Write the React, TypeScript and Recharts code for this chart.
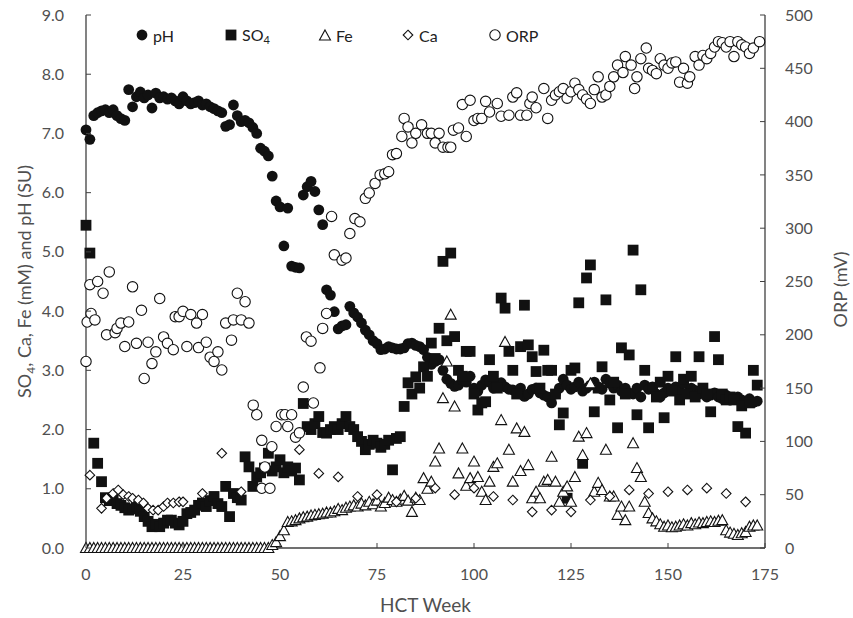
import React from "react";
import { ScatterChart, Scatter, XAxis, YAxis, Legend } from "recharts";

// weekly sampling, HCT weeks 0..173
const weeks = [
  0, 1, 2, 3, 4, 5, 6, 7, 8, 9, 10, 11, 12, 13, 14, 15, 16, 17, 18, 19, 20, 21, 22, 23, 24,
  25, 26, 27, 28, 29, 30, 31, 32, 33, 34, 35, 36, 37, 38, 39, 40, 41, 42, 43, 44, 45, 46, 47, 48, 49,
  50, 51, 52, 53, 54, 55, 56, 57, 58, 59, 60, 61, 62, 63, 64, 65, 66, 67, 68, 69, 70, 71, 72, 73, 74,
  75, 76, 77, 78, 79, 80, 81, 82, 83, 84, 85, 86, 87, 88, 89, 90, 91, 92, 93, 94, 95, 96, 97, 98, 99,
  100, 101, 102, 103, 104, 105, 106, 107, 108, 109, 110, 111, 112, 113, 114, 115, 116, 117, 118, 119,
  120, 121, 122, 123, 124, 125, 126, 127, 128, 129, 130, 131, 132, 133, 134, 135, 136, 137, 138, 139,
  140, 141, 142, 143, 144, 145, 146, 147, 148, 149, 150, 151, 152, 153, 154, 155, 156, 157, 158, 159,
  160, 161, 162, 163, 164, 165, 166, 167, 168, 169, 170, 171, 172, 173,
];

const phValues = [
  7.06, 6.9, 7.3, 7.35, 7.38, 7.4, 7.35, 7.4, 7.3, 7.25, 7.22, 7.74, 7.45, 7.62, 7.7, 7.6, 7.65, 7.43, 7.68, 7.6,
  7.62, 7.58, 7.6, 7.55, 7.5, 7.62, 7.55, 7.5, 7.52, 7.55, 7.48, 7.5, 7.45, 7.42, 7.38, 7.35, 7.12, 7.15, 7.48, 7.3,
  7.2, 7.22, 7.18, 7.1, 7.0, 6.75, 6.7, 6.62, 6.28, 5.86, 5.76, 5.1, 5.74, 4.76, 4.74, 4.73, 5.96, 6.1, 6.19, 6.02,
  5.71, 5.46, 4.36, 4.27, 3.99, 3.7, 3.75, 3.77, 4.08, 3.97, 3.9, 3.8, 3.68, 3.6, 3.5, 3.45, 3.35, 3.36, 3.4, 3.38,
  3.36, 3.36, 3.38, 3.45, 3.46, 3.42, 3.4, 3.35, 3.22, 3.1, 3.15, 3.18, 3.0, 2.85, 2.78, 2.73, 2.75, 2.84, 2.8, 2.9,
  2.7, 2.65, 2.75, 2.84, 2.8, 2.7, 2.78, 2.79, 2.72, 2.68, 2.67, 2.62, 2.7, 2.56, 2.6, 2.68, 2.7, 2.62, 2.58, 2.55,
  2.45, 2.6, 2.7, 2.85, 2.75, 2.68, 2.72, 2.8, 2.65, 2.7, 2.75, 2.8, 2.72, 2.68, 2.85, 2.78, 2.7, 2.75, 2.65, 2.7,
  2.62, 2.6, 2.7, 2.55, 2.75, 2.68, 2.72, 2.6, 2.55, 2.62, 2.7, 2.68, 2.72, 2.65, 2.78, 2.62, 2.7, 2.66, 2.6, 2.64,
  2.55, 2.58, 2.62, 2.55, 2.52, 2.58, 2.5, 2.52, 2.55, 2.5, 2.48, 2.52, 2.46, 2.48,
];

const so4Values = [
  5.45, 4.98, 1.77, 1.43, 1.12, 0.85, 0.8, 0.82, 0.75, 0.72, 0.68, 0.64, 0.66, 0.7, 0.62, 0.53, 0.45, 0.36, 0.4, 0.36,
  0.42, 0.47, 0.47, 0.42, 0.39, 0.45, 0.58, 0.6, 0.64, 0.72, 0.76, 0.7, 0.8, 0.87, 0.75, 0.7, 1.04, 0.53, 0.92, 0.85,
  0.81, 1.54, 1.37, 1.04, 1.2, 1.27, 1.35, 1.6, 1.3, 1.37, 1.49, 1.27, 1.37, 1.3, 1.35, 1.15, 2.44, 2.05, 2.0, 2.1,
  2.22, 1.95, 1.94, 2.0, 2.05, 2.0, 2.1, 2.22, 2.05, 2.0, 1.88, 1.8, 1.66, 1.75, 1.82, 1.77, 1.7, 1.75, 1.82, 1.32,
  1.85, 1.88, 2.39, 2.79, 2.6, 2.89, 2.7, 3.06, 2.9, 3.46, 3.2, 3.71, 4.84, 3.5, 4.98, 3.57, 3.0, 2.9, 3.32, 3.32,
  2.6, 2.33, 2.45, 2.47, 3.18, 2.9, 2.7, 4.22, 4.05, 3.32, 3.0, 2.6, 3.4, 4.1, 3.43, 3.23, 2.98, 2.7, 3.34, 3.0,
  3.0, 2.6, 2.08, 2.28, 0.84, 3.0, 3.04, 4.14, 1.43, 4.56, 4.78, 2.3, 2.7, 3.06, 4.19, 2.5, 2.8, 2.03, 3.38, 2.6,
  3.26, 5.03, 2.25, 4.36, 3.0, 2.03, 2.7, 2.55, 2.8, 2.2, 2.9, 2.65, 3.23, 2.5, 2.85, 2.6, 2.9, 2.55, 3.23, 2.7,
  2.6, 2.3, 3.57, 3.18, 2.6, 2.5, 2.55, 2.5, 2.05, 2.4, 1.94, 2.45, 3.0, 2.75,
];

const feValues = [
  0, 0, 0, 0, 0, 0, 0, 0, 0, 0, 0, 0, 0, 0, 0, 0, 0, 0, 0, 0, 0, 0, 0, 0, 0,
  0, 0, 0, 0, 0, 0, 0, 0, 0, 0, 0, 0, 0, 0, 0, 0, 0, 0, 0, 0, 0, 0, 0, 0.05, 0.1,
  0.2, 0.3, 0.44, 0.45, 0.47, 0.5, 0.52, 0.53, 0.55, 0.56, 0.57, 0.58, 0.6, 0.6, 0.62, 0.66, 0.64, 0.68, 0.7, 0.72,
  0.7, 0.75, 0.72, 0.78, 0.74, 0.8, 0.7, 0.76, 0.85, 0.81, 0.78, 0.82, 0.88, 0.8, 0.61, 0.85, 0.81, 1.18, 1.0, 1.12,
  1.46, 1.68, 2.53, 3.15, 3.94, 2.39, 1.26, 1.68, 1.05, 1.18, 1.46, 1.2, 0.95, 0.81, 1.12, 1.37, 1.43, 2.16, 3.48, 1.66,
  1.12, 2.02, 1.3, 1.96, 1.4, 0.84, 0.95, 0.84, 1.12, 1.15, 1.54, 1.12, 0.78, 0.95, 1.04, 0.78, 1.2, 1.88, 1.57, 1.94,
  2.78, 0.95, 1.1, 0.98, 1.66, 0.87, 0.87, 0.56, 0.7, 0.47, 0.7, 1.77, 1.35, 1.2, 0.78, 0.59, 0.5, 0.45, 0.4, 0.36,
  0.38, 0.35, 0.36, 0.38, 0.4, 0.38, 0.42, 0.4, 0.43, 0.42, 0.44, 0.45, 0.44, 0.46, 0.47, 0.3, 0.26, 0.24, 0.22, 0.25,
  0.27, 0.36, 0.38, 0.38,
];

const caWeeks = [
  1, 4, 5.3, 7, 8.3, 9.6, 11, 12, 13.5, 14.8, 16, 17.3, 18.6, 20, 21, 22.5, 24, 25, 30, 35, 40,
  55, 60, 65, 70, 75, 80, 85, 90, 95, 100, 105, 110, 115, 120, 125, 130, 135, 140, 145, 150, 155, 160, 165, 170,
];
const caValues = [
  1.23, 0.67, 0.84, 0.92, 0.98, 0.9, 0.87, 0.84, 0.81, 0.76, 0.67, 0.64, 0.64, 0.7, 0.76, 0.76, 0.78, 0.78, 0.92, 1.6, 0.95,
  1.66, 1.26, 1.2, 0.87, 0.9, 0.78, 0.84, 1.01, 0.9, 1.01, 0.87, 0.81, 0.61, 0.64, 0.61, 0.81, 0.87, 0.98, 0.92, 0.95, 0.98, 1.01, 0.92, 0.78,
];

const orpWeeks = [
  0, 0.3, 1, 1.3, 2.3, 3, 4.4, 5.3, 6, 7.5, 8, 9, 10, 11, 12, 13, 14.3, 15, 16, 17, 18, 19, 20, 21, 22.5,
  23, 24, 25, 26, 27, 28.5, 29, 30, 31, 32, 33, 34, 35, 36, 37.5, 38, 39, 40, 41, 42, 43.1, 44, 45.3, 45.3, 46.1,
  47.4, 47.9, 49, 50.4, 51.3, 52, 53, 54, 55, 56, 56.8, 58, 58.6, 60.3, 61, 62, 63.3, 64, 66, 67, 68, 69.3, 70.6, 72,
  73, 74.5, 75.8, 77, 78, 79, 80, 81.4, 82, 83, 84, 85, 86.5, 88, 89, 90, 91, 92, 93.3, 94, 94.7, 96, 97, 98, 99,
  100, 101, 102, 103, 104, 106, 107, 109, 110, 111, 112, 113.6, 114.4, 115, 116, 118, 119, 120, 121, 122, 123, 124,
  125, 126, 127, 128, 129, 130, 131, 132, 133, 134, 135, 136, 137, 138.4, 139, 140.5, 141.4, 142, 143, 144.4, 145,
  146, 147, 148, 149, 150, 151, 152, 153, 154, 155, 155.6, 157, 158, 159, 160, 161, 162, 163, 164, 165, 166, 167,
  168, 169, 170, 171, 172, 173.6,
];
const orpValues = [
  175, 212, 247, 220, 214, 250, 239, 200, 259, 202, 206, 211, 189, 212, 245, 192, 223, 159, 193, 173, 184, 234, 198, 192, 186,
  217, 217, 222, 189, 219, 211, 188, 219, 193, 179, 175, 184, 167, 211, 195, 214, 239, 214, 231, 211, 134, 125, 101, 56, 76,
  56, 95, 114, 125, 125, 114, 125, 104, 108, 151, 198, 194, 136, 169, 206, 220, 311, 275, 270, 272, 295, 309, 306, 328,
  333, 342, 350, 351, 353, 369, 370, 386, 403, 395, 380, 389, 397, 389, 389, 380, 389, 376, 376, 376, 392, 394, 416, 386, 420,
  401, 403, 403, 419, 409, 417, 405, 406, 423, 427, 406, 406, 417, 423, 413, 431, 403, 420, 425, 428, 431, 422,
  428, 436, 430, 425, 421, 417, 430, 442, 423, 425, 433, 442, 453, 446, 461, 453, 431, 442, 459, 469, 450,
  448, 445, 459, 453, 450, 455, 456, 437, 450, 436, 442, 461, 453, 462, 459, 464, 470, 475, 474, 470, 475, 461,
  475, 472, 470, 464, 469, 475,
];

const xTicks = [0, 25, 50, 75, 100, 125, 150, 175];
const leftTicks = [0, 1, 2, 3, 4, 5, 6, 7, 8, 9];
const rightTicks = [0, 50, 100, 150, 200, 250, 300, 350, 400, 450, 500];

const toPoints = (xs: number[], ys: number[]) => ys.map((v, i) => ({ week: xs[i], value: v }));

const phData = toPoints(weeks, phValues);
const so4Data = toPoints(weeks, so4Values);
const feData = toPoints(weeks, feValues);
const caData = toPoints(caWeeks, caValues);
const orpData = toPoints(orpWeeks, orpValues);

const AXIS = "#404040";
const TEXT = "#505050";
const INK = "#111";
const GAP = 20;

const Dot = (p: any) => <circle cx={p.cx} cy={p.cy} r={5.4} fill={INK} />;
const Square = (p: any) => <rect x={p.cx - 5.4} y={p.cy - 5.4} width={10.8} height={10.8} fill={INK} />;
const Triangle = (p: any) => (
  <path
    d={`M${p.cx},${p.cy - 5.5}L${p.cx + 5.5},${p.cy + 4.5}L${p.cx - 5.5},${p.cy + 4.5}Z`}
    fill="#fff"
    stroke={INK}
    strokeWidth={1.1}
  />
);
const Diamond = (p: any) => (
  <path
    d={`M${p.cx},${p.cy - 4.8}L${p.cx + 4.8},${p.cy}L${p.cx},${p.cy + 4.8}L${p.cx - 4.8},${p.cy}Z`}
    fill="#fff"
    stroke={INK}
    strokeWidth={1.1}
  />
);
const Ring = (p: any) => <circle cx={p.cx} cy={p.cy} r={5.2} fill="#fff" stroke={INK} strokeWidth={1.1} />;

const BottomTick = ({ x, y, payload }: any) => (
  <g>
    <line x1={x} x2={x} y1={y - GAP} y2={y - GAP - 5} stroke={AXIS} />
    <text x={x} y={y} dy="0.75em" textAnchor="middle" fontSize={16} fill={TEXT}>
      {payload.value}
    </text>
  </g>
);

const LeftTick = ({ x, y, payload }: any) => (
  <g>
    <line x1={x + GAP} x2={x + GAP + 5} y1={y} y2={y} stroke={AXIS} />
    <text x={x - 2} y={y} dy="0.35em" textAnchor="end" fontSize={16} fill={TEXT}>
      {Number(payload.value).toFixed(1)}
    </text>
  </g>
);

const RightTick = ({ x, y, payload }: any) => (
  <g>
    <line x1={x - GAP} x2={x - GAP - 5} y1={y} y2={y} stroke={AXIS} />
    <text x={x} y={y} dy="0.35em" textAnchor="start" fontSize={16} fill={TEXT}>
      {payload.value}
    </text>
  </g>
);

const LeftTitle = ({ viewBox }: any) => {
  const cx = viewBox.x + 25;
  const cy = viewBox.y + viewBox.height / 2;
  return (
    <text transform={`translate(${cx},${cy}) rotate(-90)`} textAnchor="middle" dy="0.35em" fontSize={18} fill={TEXT}>
      SO<tspan dy={4} fontSize={12}>4</tspan>
      <tspan dy={-4}>, Ca, Fe (mM) and pH (SU)</tspan>
    </text>
  );
};

const RightTitle = ({ viewBox }: any) => {
  const cx = viewBox.x + 76;
  const cy = viewBox.y + viewBox.height / 2 + 8;
  return (
    <text transform={`translate(${cx},${cy}) rotate(-90)`} textAnchor="middle" dy="0.35em" fontSize={18} fill={TEXT}>
      ORP (mV)
    </text>
  );
};

const legendItems = [
  { name: "pH", shape: "dot", left: 8 },
  { name: "SO4", shape: "square", left: 97 },
  { name: "Fe", shape: "triangle", left: 191 },
  { name: "Ca", shape: "diamond", left: 274 },
  { name: "ORP", shape: "ring", left: 361 },
];

const Marker = ({ shape }: { shape: string }) => {
  const c = 6;
  if (shape === "dot") return <Dot cx={c} cy={c} />;
  if (shape === "square") return <Square cx={c} cy={c} />;
  if (shape === "triangle") return <Triangle cx={c} cy={c + 0.5} />;
  if (shape === "diamond") return <Diamond cx={c} cy={c} />;
  return <Ring cx={c} cy={c} />;
};

const LegendBox = () => (
  <div style={{ position: "relative", height: 22 }}>
    {legendItems.map((it) => (
      <div
        key={it.name}
        style={{ position: "absolute", left: it.left, top: 0, display: "flex", alignItems: "center", height: 22 }}
      >
        <svg width={12} height={12} style={{ overflow: "visible" }}>
          <Marker shape={it.shape} />
        </svg>
        <span style={{ marginLeft: 5, fontSize: 16, color: "#222", whiteSpace: "nowrap" }}>
          {it.name === "SO4" ? (
            <>
              SO<sub style={{ fontSize: 11, verticalAlign: -3 }}>4</sub>
            </>
          ) : (
            it.name
          )}
        </span>
      </div>
    ))}
  </div>
);

export default function App() {
  return (
    <div
      style={{
        position: "absolute",
        left: 0,
        top: 0,
        width: 853,
        height: 618,
        background: "#fff",
        fontFamily: "Lato, 'Open Sans', sans-serif",
      }}
    >
      <ScatterChart width={853} height={618} margin={{ top: 15, right: 0, bottom: 0, left: 0 }}>
        <XAxis
          xAxisId="b"
          type="number"
          dataKey="week"
          domain={[0, 175]}
          ticks={xTicks}
          height={70}
          tickSize={0}
          tickMargin={GAP}
          tickLine={false}
          tick={BottomTick}
          axisLine={{ stroke: AXIS, strokeWidth: 1.3 }}
          label={{ value: "HCT Week", position: "insideBottom", offset: 6, fontSize: 19, fill: TEXT }}
        />
        <XAxis
          xAxisId="t"
          orientation="top"
          type="number"
          domain={[0, 175]}
          height={0}
          tick={false}
          tickLine={false}
          axisLine={{ stroke: AXIS, strokeWidth: 1.3 }}
        />
        <YAxis
          yAxisId="l"
          type="number"
          dataKey="value"
          domain={[0, 9]}
          ticks={leftTicks}
          width={86}
          tickSize={0}
          tickMargin={GAP}
          tickLine={false}
          tick={LeftTick}
          axisLine={{ stroke: AXIS, strokeWidth: 1.3 }}
          label={{ content: LeftTitle }}
        />
        <YAxis
          yAxisId="r"
          orientation="right"
          type="number"
          dataKey="value"
          domain={[0, 500]}
          ticks={rightTicks}
          width={88}
          tickSize={0}
          tickMargin={GAP}
          tickLine={false}
          tick={RightTick}
          axisLine={{ stroke: AXIS, strokeWidth: 1.3 }}
          label={{ content: RightTitle }}
        />
        <Legend
          layout="horizontal"
          verticalAlign="middle"
          align="center"
          content={LegendBox}
          wrapperStyle={{ top: 24, left: 128, width: 440, height: 22 }}
        />
        <Scatter name="pH" xAxisId="b" yAxisId="l" data={phData} shape={Dot} isAnimationActive={false} />
        <Scatter name="SO4" xAxisId="b" yAxisId="l" data={so4Data} shape={Square} isAnimationActive={false} />
        <Scatter name="Fe" xAxisId="b" yAxisId="l" data={feData} shape={Triangle} isAnimationActive={false} />
        <Scatter name="Ca" xAxisId="b" yAxisId="l" data={caData} shape={Diamond} isAnimationActive={false} />
        <Scatter name="ORP" xAxisId="b" yAxisId="r" data={orpData} shape={Ring} isAnimationActive={false} />
      </ScatterChart>
    </div>
  );
}
